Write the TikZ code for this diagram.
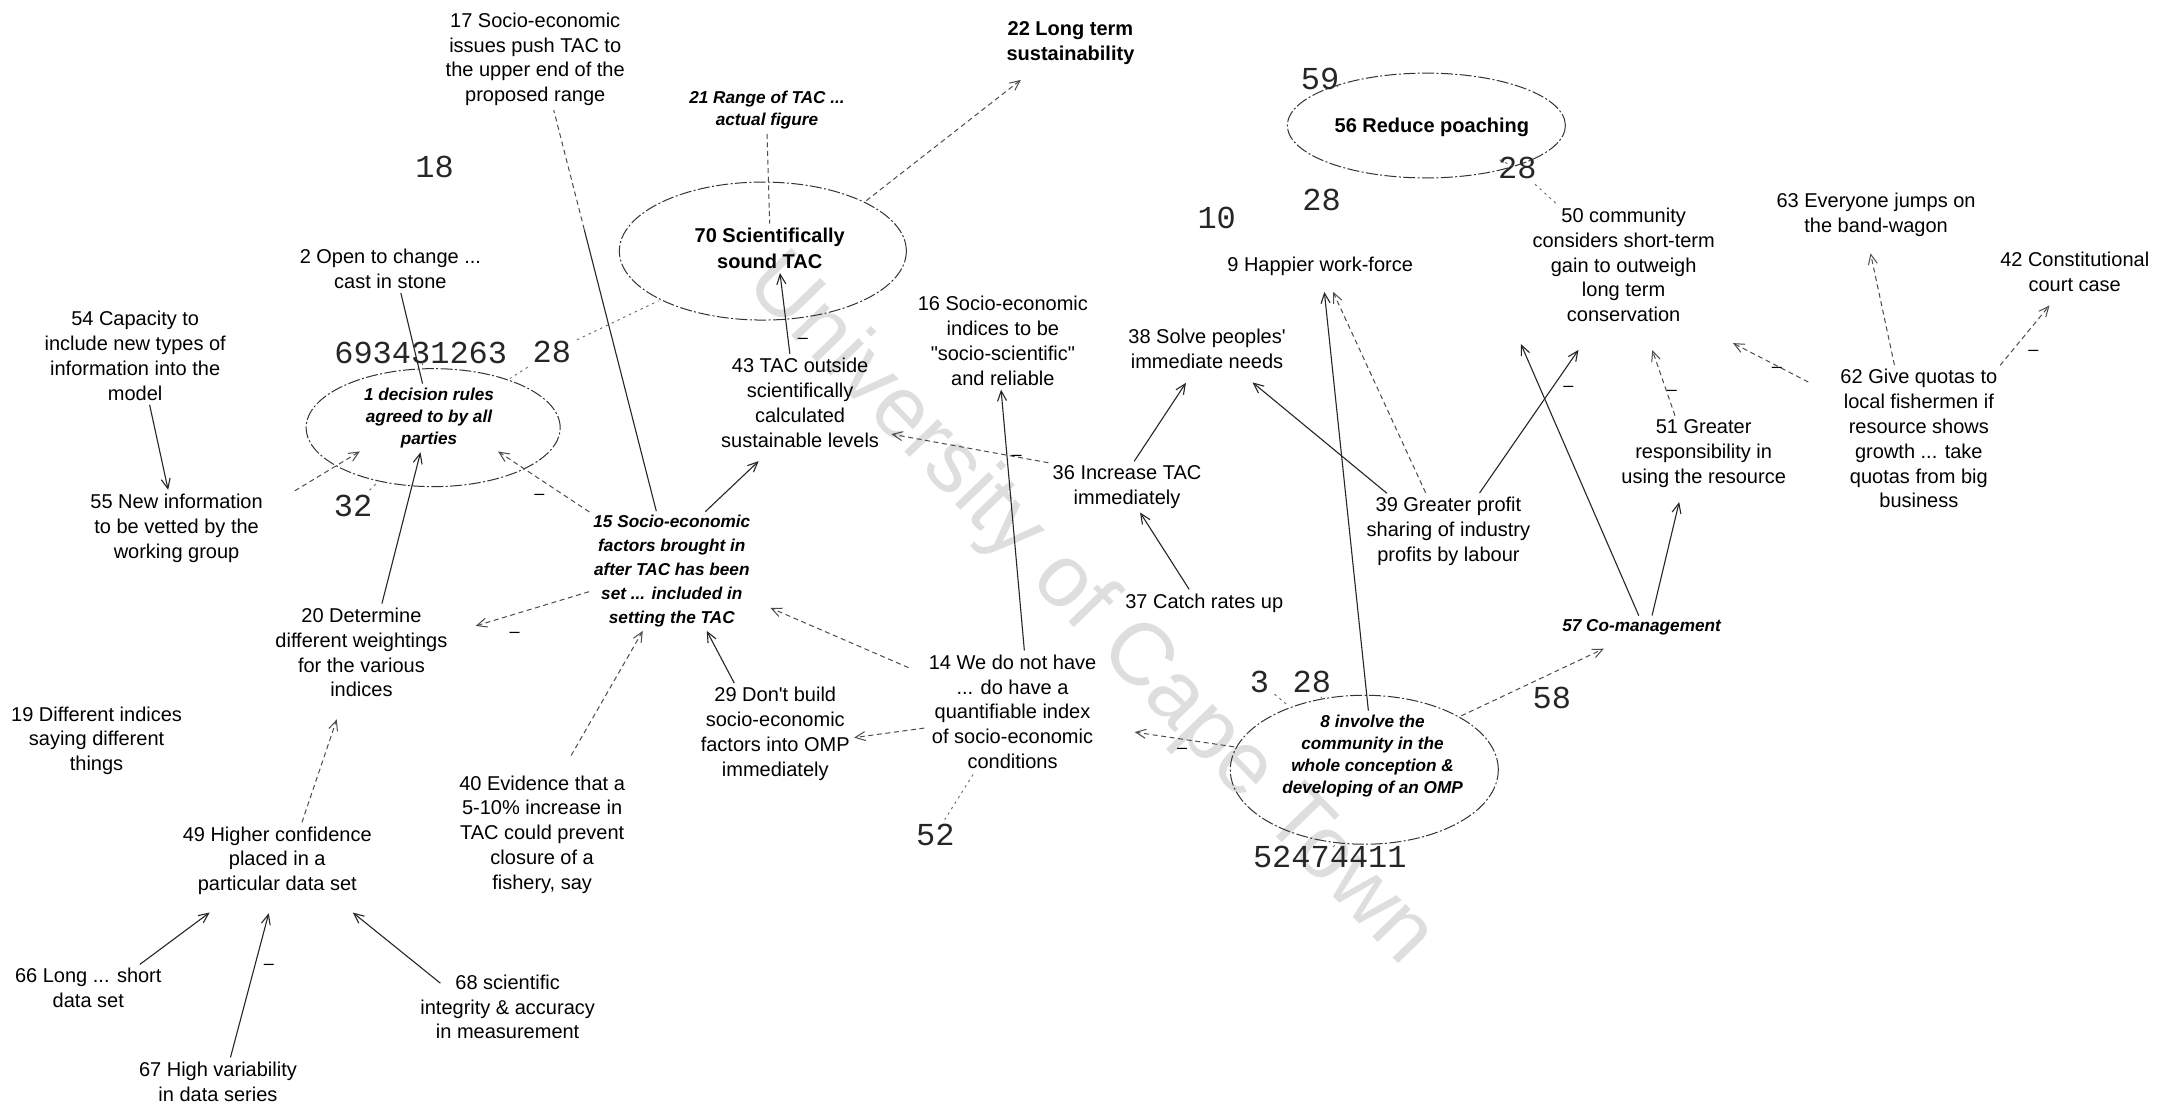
\documentclass[tikz,border=0pt]{standalone}
\usepackage{fontspec}
\setmainfont{Liberation Sans}
\newfontfamily\qf{Liberation Sans}
\newfontfamily\monof{Liberation Mono}
\usetikzlibrary{arrows.meta,shapes.geometric}
\begin{document}
\begin{tikzpicture}[x=0.68973pt,y=-0.68973pt,
 txt/.style={align=center,font=\fontsize{10}{12.4}\selectfont,inner sep=1pt},
 bi/.style={align=center,font=\bfseries\itshape\fontsize{8.6}{11}\selectfont,inner sep=1pt},
 bd/.style={align=center,font=\bfseries\fontsize{10}{13}\selectfont,inner sep=1pt},
 num/.style={font=\monof\fontsize{16}{16}\selectfont,inner sep=1pt,text=black!85},
 ell/.style={ellipse,draw=black!80,line width=0.5pt,dash pattern=on 6pt off 1.2pt on 1pt off 1.2pt,inner sep=0pt},
 arr/.style={draw=black!85,line width=0.55pt,-{Straight Barb[length=5pt,width=4.5pt]},shorten >=1pt,shorten <=1pt},
 farr/.style={draw=black!70,line width=0.5pt,dash pattern=on 2.5pt off 1.8pt,-{Straight Barb[length=5pt,width=4.5pt]},shorten >=1pt,shorten <=1pt},
 pline/.style={draw=black!85,line width=0.55pt,shorten <=1pt},
 fline/.style={draw=black!70,line width=0.5pt,dash pattern=on 2.5pt off 1.8pt,shorten >=1pt,shorten <=1pt},
 stub/.style={draw=black!60,line width=0.45pt,dash pattern=on 1.2pt off 2pt,shorten >=1pt,shorten <=2pt},
 sign/.style={font=\fontsize{9}{9}\selectfont,inner sep=0pt}]
\fill[white] (0,0) rectangle (1568,800);
\useasboundingbox (0,0) rectangle (1568,800);
% watermark
\node[rotate=-46,text=black!13,font=\fontsize{44}{44}\selectfont] (wm) at (790,443) {University of Cape Town};

% ellipses
\node[ell,minimum width=127pt,minimum height=59pt] (e1) at (314,310) {};
\node[ell,minimum width=143.5pt,minimum height=69pt] (e70) at (553,182) {};
\node[ell,minimum width=139pt,minimum height=52.4pt] (e56) at (1034,91) {};
\node[ell,minimum width=134pt,minimum height=74.5pt] (e8) at (989,558) {};

% concept nodes
\node[txt] (n17) at (388,43) {17 Socio-economic\\issues push TAC to\\the upper end of the\\proposed range};
\node[bi] (n21) at (556,80) {21 Range of TAC ...\\actual figure};
\node[bd,font=\bfseries\fontsize{10}{12.4}\selectfont] (n22) at (776,31) {22 Long term\\sustainability};
\node[bd] (n70) at (558,180) {70 Scientifically\\sound TAC};
\node[txt] (n2) at (283,195) {2 Open to change ...\\cast in stone};
\node[txt] (n54) at (98,258) {54 Capacity to\\include new types of\\information into the\\model};
\node[bi] (n1) at (311,303) {1 decision rules\\agreed to by all\\parties};
\node[txt] (n55) at (128,383) {55 New information\\to be vetted by the\\working group};
\node[bi,font=\bfseries\itshape\fontsize{8.6}{11.9}\selectfont] (n15) at (487,414) {15 Socio-economic\\factors brought in\\after TAC has been\\set ... included in\\setting the TAC};
\node[txt] (n43) at (580,292) {43 TAC outside\\scientifically\\calculated\\sustainable levels};
\node[txt] (n16) at (727,247) {16 Socio-economic\\indices to be\\{\qf"}socio-scientific{\qf"}\\and reliable};
\node[txt] (n38) at (875,253) {38 Solve peoples{\qf'}\\immediate needs};
\node[txt] (n9) at (957,193) {9 Happier work-force};
\node[bd] (n56) at (1038,92) {56 Reduce poaching};
\node[txt] (n50) at (1177,192) {50 community\\considers short-term\\gain to outweigh\\long term\\conservation};
\node[txt] (n63) at (1360,156) {63 Everyone jumps on\\the band-wagon};
\node[txt] (n42) at (1504,197) {42 Constitutional\\court case};
\node[txt] (n62) at (1391,318) {62 Give quotas to\\local fishermen if\\resource shows\\growth ... take\\quotas from big\\business};
\node[txt] (n51) at (1235,329) {51 Greater\\responsibility in\\using the resource};
\node[txt] (n39) at (1050,385) {39 Greater profit\\sharing of industry\\profits by labour};
\node[txt] (n36) at (817,353) {36 Increase TAC\\immediately};
\node[txt] (n37) at (873,437) {37 Catch rates up};
\node[bi] (n57) at (1190,455) {57 Co-management};
\node[bi] (n8) at (995,548) {8 involve the\\community in the\\whole conception \&\\developing of an OMP};
\node[txt] (n14) at (734,516) {14 We do not have\\... do have a\\quantifiable index\\of socio-economic\\conditions};
\node[txt] (n29) at (562,532) {29 Don{\qf'}t build\\socio-economic\\factors into OMP\\immediately};
\node[txt] (n20) at (262,473) {20 Determine\\different weightings\\for the various\\indices};
\node[txt] (n19) at (70,537) {19 Different indices\\saying different\\things};
\node[txt] (n40) at (393,605) {40 Evidence that a\\5-10\% increase in\\TAC could prevent\\closure of a\\fishery, say};
\node[txt] (n49) at (201,624) {49 Higher confidence\\placed in a\\particular data set};
\node[txt] (n66) at (64,716) {66 Long ... short\\data set};
\node[txt] (n68) at (368,730) {68 scientific\\integrity \& accuracy\\in measurement};
\node[txt] (n67) at (158,784) {67 High variability\\in data series};

% number labels
\node[num] (l18) at (315,121) {18};
\node[num] (l693) at (305,256) {693431263};
\node[num] (l28a) at (400,255) {28};
\node[num] (l32) at (256,367) {32};
\node[num] (l10) at (882,158) {10};
\node[num] (l59) at (957,57) {59};
\node[num] (l28c) at (958,145) {28};
\node[num] (l28d) at (1100,122) {28};
\node[num] (l58) at (1125,506) {58};
\node[num] (l3) at (913,494) {3};
\node[num] (l28e) at (951,494) {28};
\node[num] (l524) at (964,621) {52474411};
\node[num] (l52) at (678,605) {52};

% connectors
\draw[arr] ([xshift=7pt]n54.south) -- ([xshift=-4pt]n55.north);
\draw[farr] ([xshift=14pt]n55.north east) -- (n1.south west);
\draw[pline,shorten >=1pt] ([xshift=5pt]n2.south) -- ([xshift=-3pt]n1.north);
\draw[arr] ([xshift=10pt]n20.north) -- ([xshift=-4pt]n1.south);
\draw[farr] (n15.north west) -- (n1.south east);
\path ([xshift=-7.5pt]n15.north) -- ([xshift=9pt]n17.south) coordinate[pos=0.7] (m15);
\draw[pline] ([xshift=-7.5pt]n15.north) -- (m15);
\draw[fline,shorten <=0pt] (m15) -- ([xshift=9pt]n17.south);
\draw[arr] ([xshift=16pt]n15.north) -- ([xshift=-20pt,yshift=-5pt]n43.south);
\draw[arr] ([xshift=-5pt]n43.north) -- ([xshift=5pt]n70.south);
\draw[fline] (n21.south) -- (n70.north);
\draw[farr] (e70.north east) -- ([xshift=-24pt,yshift=-6pt]n22.south);
\draw[stub] (l28a) -- (e70);
\draw[farr] (n36.north west) -- ([xshift=4pt,yshift=8pt]n43.south east);
\draw[arr] ([xshift=6pt]n14.north) -- ([xshift=-1pt]n16.south);
\draw[arr] ([xshift=3pt]n36.north) -- ([xshift=-10pt,yshift=-5pt]n38.south);
\draw[arr] ([xshift=-7pt]n37.north) -- ([xshift=6pt]n36.south);
\draw[arr] ([xshift=-30pt]n39.north) -- ([xshift=22pt,yshift=-5pt]n38.south);
\draw[arr] ([xshift=-2pt]n8.north) -- ([xshift=2pt,yshift=-6pt]n9.south);
\draw[farr] ([xshift=-11pt]n39.north) -- ([xshift=6pt,yshift=-6pt]n9.south);
\draw[arr] ([xshift=15pt]n39.north) -- ([xshift=-22pt,yshift=-12pt]n50.south);
\draw[arr] ([xshift=-1pt]n57.north) -- ([xshift=-5pt,yshift=-9pt]n50.south west);
\draw[arr] ([xshift=5pt]n57.north) -- ([xshift=-12pt,yshift=-5pt]n51.south);
\draw[farr] ([xshift=-14pt]n51.north) -- ([xshift=14pt,yshift=-12pt]n50.south);
\draw[farr] ([xshift=-14pt,yshift=-8pt]n62.north west) -- ([xshift=7pt,yshift=-9pt]n50.south east);
\draw[farr] ([xshift=-12pt]n62.north) -- ([xshift=-3pt,yshift=-6pt]n63.south);
\draw[farr] ([xshift=40pt]n62.north) -- ([xshift=-12pt,yshift=-5pt]n42.south);
\draw[farr] (e8.north east) -- ([xshift=-18pt,yshift=-5pt]n57.south);
\draw[farr] (e8.170) -- ([xshift=17pt,yshift=-10pt]n14.east);
\draw[farr] ([xshift=-8pt,yshift=-8pt]n14.north west) -- ([xshift=8pt,yshift=11pt]n15.south east);
\draw[farr] ([yshift=-8pt]n14.west) -- ([yshift=-2pt]n29.east);
\draw[arr] ([xshift=-20pt]n29.north) -- ([xshift=17pt]n15.south);
\draw[farr] ([xshift=14pt,yshift=8pt]n40.north) -- ([xshift=-14pt]n15.south);
\draw[farr] ([yshift=-10pt]n15.west) -- ([xshift=12pt,yshift=13pt]n20.east);
\draw[farr] ([xshift=12pt]n49.north) -- ([xshift=-12pt,yshift=-9pt]n20.south);
\draw[arr] ([xshift=25pt]n66.north) -- ([xshift=-33pt,yshift=-7pt]n49.south);
\draw[arr] ([xshift=6pt]n67.north) -- ([xshift=-4pt,yshift=-7pt]n49.south);
\draw[arr] ([xshift=12pt,yshift=-6pt]n68.north west) -- ([xshift=37pt,yshift=-7pt]n49.south);

% stubs to the reference numbers
\draw[stub] (l693) -- (e1);
\draw[stub] (l28a) -- (e1);
\draw[stub] (l32) -- (e1);
\draw[stub] (l59) -- (e56);
\draw[stub] (l28d) -- (e56);
\draw[stub] (l28d) -- (n50);
\draw[stub] (l3) -- (e8);
\draw[stub] (l28e) -- (e8);
\draw[stub] (l524) -- (e8);
\draw[stub] (n14) -- (l52);

% signs
\node[sign] (s1) at (391,360) {--};
\node[sign] (s2) at (582,247) {--};
\node[sign] (s3) at (737,332) {--};
\node[sign] (s4) at (373,460) {--};
\node[sign] (s5) at (857,544) {--};
\node[sign] (s6) at (195,701) {--};
\node[sign] (s7) at (1288,268) {--};
\node[sign] (s8) at (1474,256) {--};
\node[sign] (s9) at (1212,285) {--};
\node[sign] (s10) at (1137,282) {--};
\end{tikzpicture}
\end{document}
